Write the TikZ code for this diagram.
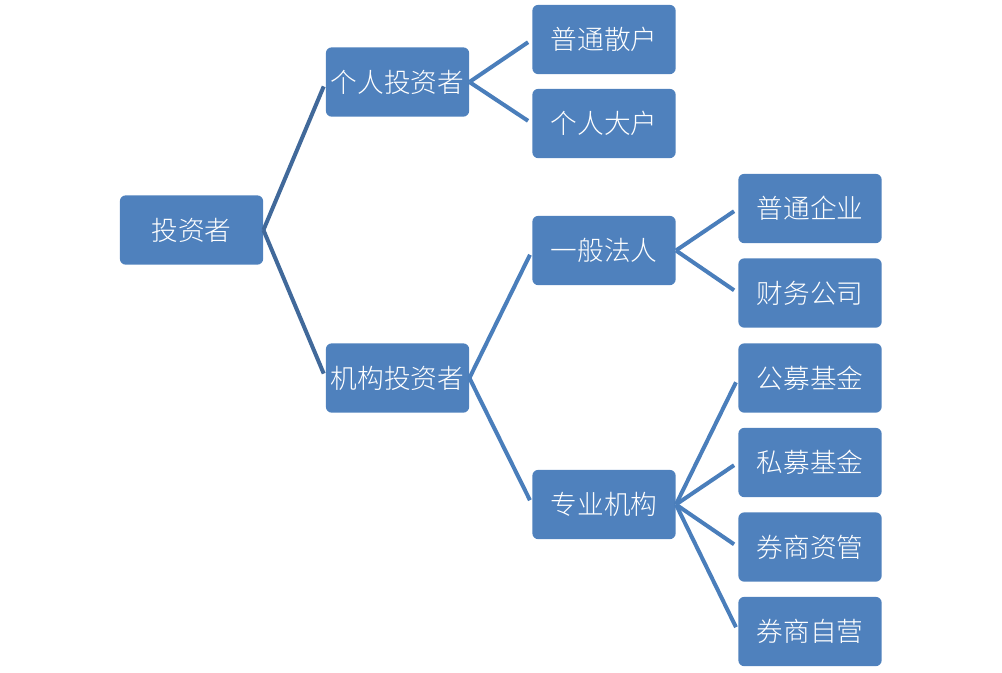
\documentclass[tikz,border=0pt]{standalone}
\usepackage{fontspec}
\newfontfamily\cjk{Noto Sans CJK SC Light}
\begin{document}
\begin{tikzpicture}[x=0.75pt,y=-0.75pt,
  box/.style={draw=none,fill=boxblue,rounded corners=4.5pt,minimum width=107.5pt,
    minimum height=52pt,inner sep=0pt,text=white,font=\cjk\fontsize{20pt}{22pt}\selectfont},
  link/.style={draw=lineblue,line width=3pt,shorten >=3.6pt},
  rootlink/.style={link,draw=rootblue}]
\definecolor{boxblue}{HTML}{4F81BD}
\definecolor{lineblue}{HTML}{4A7EBB}
\definecolor{rootblue}{HTML}{41699A}
\useasboundingbox (0,0) rectangle (1002,672);
% level 0
\node[box] (root) at (191.5,230) {投资者};
% level 1
\node[box] (indiv) at (397.5,82) {个人投资者};
\node[box] (inst)  at (397.5,378) {机构投资者};
% level 2
\node[box] (retail) at (604,39.5) {普通散户};
\node[box] (big)    at (604,123.5) {个人大户};
\node[box] (legal)  at (604,250.5) {一般法人};
\node[box] (prof)   at (604,504.5) {专业机构};
% level 3
\node[box] (corp)  at (810,208.5) {普通企业};
\node[box] (fin)   at (810,293)   {财务公司};
\node[box] (pubf)  at (810,378)   {公募基金};
\node[box] (privf) at (810,462.5) {私募基金};
\node[box] (bam)   at (810,547)   {券商资管};
\node[box] (bprop) at (810,631.5) {券商自营};
% connectors
\draw[rootlink] (root.east) -- (indiv.west);
\draw[rootlink] (root.east) -- (inst.west);
\draw[link] (indiv.east) -- (retail.west);
\draw[link] (indiv.east) -- (big.west);
\draw[link] (inst.east) -- (legal.west);
\draw[link] (inst.east) -- (prof.west);
\draw[link] (legal.east) -- (corp.west);
\draw[link] (legal.east) -- (fin.west);
\draw[link] (prof.east) -- (pubf.west);
\draw[link] (prof.east) -- (privf.west);
\draw[link] (prof.east) -- (bam.west);
\draw[link] (prof.east) -- (bprop.west);
\end{tikzpicture}
\end{document}
